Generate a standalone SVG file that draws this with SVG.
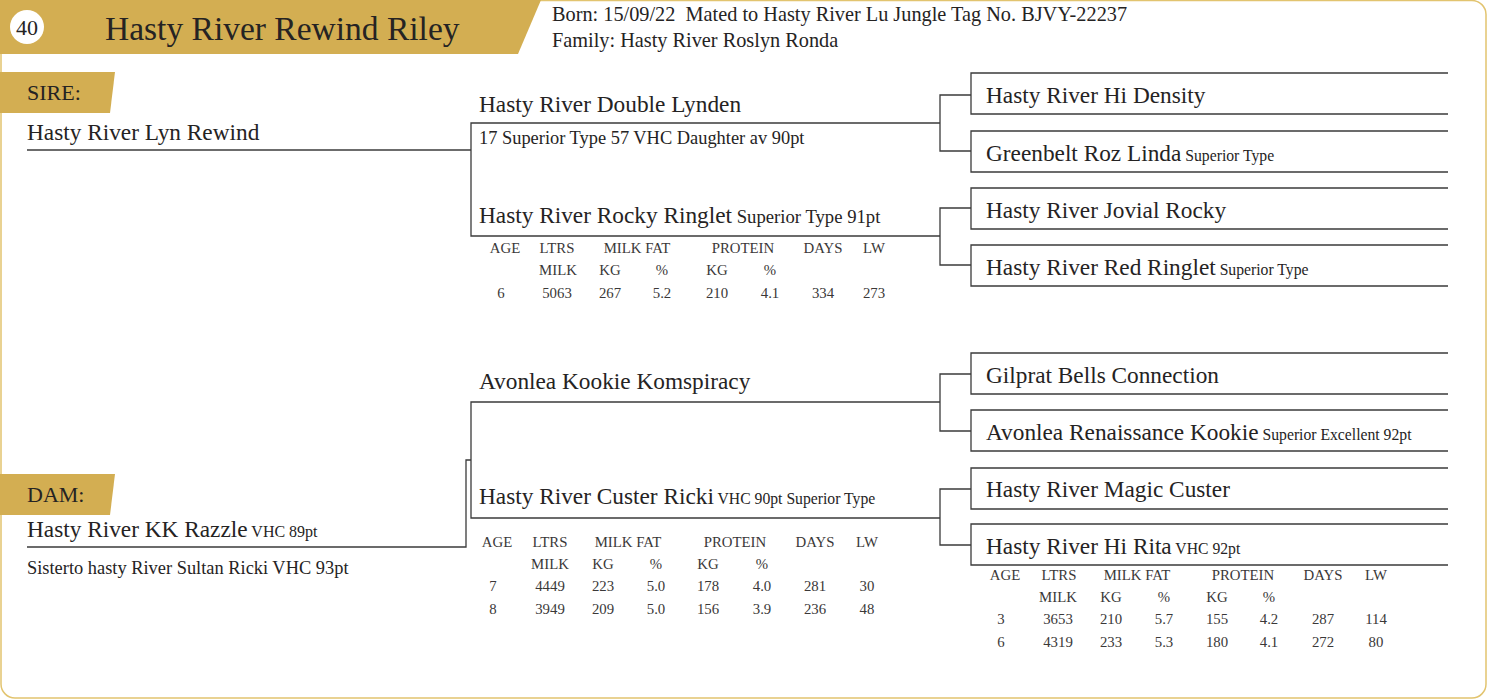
<svg xmlns="http://www.w3.org/2000/svg" width="1487" height="699" viewBox="0 0 1487 699">
<style>
.gold{fill:#d3ae52}
.t{font-family:"Liberation Serif","Times New Roman",serif;fill:#252323}
.name{font-size:23.3px}
.sub{font-size:15.7px}
.note{font-size:18.4px}
.tb{font-family:"Liberation Serif","Times New Roman",serif;fill:#3a3838;font-size:14.8px;text-anchor:middle}
.ln{fill:none;stroke:#3b3b3b;stroke-width:1.3}
.box{fill:none;stroke:#3b3b3b;stroke-width:1.3}
</style>
<rect x="1" y="0.5" width="1485" height="697.5" rx="14" fill="#ffffff" stroke="#e2c46f" stroke-width="1.5"/>

<g id="header">
  <polygon class="gold" points="0,0 541,0 518,54 0,54"/>
  <circle cx="27" cy="27" r="17" fill="#ffffff"/>
  <text class="t" x="27" y="35" font-size="22" text-anchor="middle">40</text>
  <text class="t" x="105" y="40" font-size="33.5">Hasty River Rewind Riley</text>
  <text class="t" x="552" y="21" font-size="20.3" xml:space="preserve">Born: 15/09/22  Mated to Hasty River Lu Jungle Tag No. BJVY-22237</text>
  <text class="t" x="552" y="47" font-size="20.3">Family: Hasty River Roslyn Ronda</text>
</g>

<g id="connectors">
  <polyline class="ln" points="27,150 471,150"/>
  <polyline class="ln" points="940,123 471,123 471,236 940,236"/>
  <polyline class="ln" points="971,95 940,95 940,151 971,151"/>
  <polyline class="ln" points="971,208 940,208 940,265 971,265"/>
  <polyline class="ln" points="27,547 466,547 466,460 471,460"/>
  <polyline class="ln" points="940,402 471,402 471,518 940,518"/>
  <polyline class="ln" points="971,374 940,374 940,431 971,431"/>
  <polyline class="ln" points="971,489 940,489 940,545 971,545"/>
</g>

<g id="sire">
  <polygon class="gold" points="0,72 115,72 110,113 0,113"/>
  <text class="t" x="27" y="100" font-size="22">SIRE:</text>
  <text class="t name" x="27" y="140">Hasty River Lyn Rewind</text>
</g>

<g id="sire-sire">
  <text class="t name" x="479" y="112">Hasty River Double Lynden</text>
  <text class="t note" x="479" y="144">17 Superior Type 57 VHC Daughter av 90pt</text>
</g>

<g id="sire-dam">
  <text class="t" x="479" y="223"><tspan class="name">Hasty River Rocky Ringlet</tspan><tspan font-size="18.7"> Superior Type 91pt</tspan></text>
  <g class="tb">
    <text x="505" y="253">AGE</text><text x="557" y="253">LTRS</text><text x="637" y="253">MILK FAT</text><text x="743" y="253">PROTEIN</text><text x="823" y="253">DAYS</text><text x="874" y="253">LW</text>
    <text x="558" y="275">MILK</text><text x="610" y="275">KG</text><text x="662" y="275">%</text><text x="717" y="275">KG</text><text x="770" y="275">%</text>
    <text x="501" y="298">6</text><text x="557" y="298">5063</text><text x="610" y="298">267</text><text x="662" y="298">5.2</text><text x="717" y="298">210</text><text x="770" y="298">4.1</text><text x="823" y="298">334</text><text x="874" y="298">273</text>
  </g>
</g>

<g id="sss">
  <polyline class="box" points="1448,73 971,73 971,114 1448,114"/>
  <text class="t name" x="986" y="103">Hasty River Hi Density</text>
</g>
<g id="ssd">
  <polyline class="box" points="1448,131 971,131 971,172 1448,172"/>
  <text class="t" x="986" y="161"><tspan class="name">Greenbelt Roz Linda</tspan><tspan class="sub"> Superior Type</tspan></text>
</g>
<g id="sds">
  <polyline class="box" points="1448,188 971,188 971,229 1448,229"/>
  <text class="t name" x="986" y="218">Hasty River Jovial Rocky</text>
</g>
<g id="sdd">
  <polyline class="box" points="1448,245 971,245 971,286 1448,286"/>
  <text class="t" x="986" y="275"><tspan class="name">Hasty River Red Ringlet</tspan><tspan class="sub"> Superior Type</tspan></text>
</g>

<g id="dam">
  <polygon class="gold" points="0,474 115,474 110,515 0,515"/>
  <text class="t" x="27" y="502" font-size="22">DAM:</text>
  <text class="t" x="27" y="537"><tspan class="name">Hasty River KK Razzle</tspan><tspan font-size="16"> VHC 89pt</tspan></text>
  <text class="t note" x="27" y="574">Sisterto hasty River Sultan Ricki VHC 93pt</text>
</g>

<g id="dam-sire">
  <text class="t name" x="479" y="389">Avonlea Kookie Komspiracy</text>
</g>

<g id="dam-dam">
  <text class="t" x="479" y="504"><tspan class="name">Hasty River Custer Ricki</tspan><tspan class="sub"> VHC 90pt Superior Type</tspan></text>
  <g class="tb">
    <text x="497" y="547">AGE</text><text x="550" y="547">LTRS</text><text x="628" y="547">MILK FAT</text><text x="735" y="547">PROTEIN</text><text x="815" y="547">DAYS</text><text x="867" y="547">LW</text>
    <text x="550" y="569">MILK</text><text x="603" y="569">KG</text><text x="656" y="569">%</text><text x="708" y="569">KG</text><text x="762" y="569">%</text>
    <text x="493" y="591">7</text><text x="550" y="591">4449</text><text x="603" y="591">223</text><text x="656" y="591">5.0</text><text x="708" y="591">178</text><text x="762" y="591">4.0</text><text x="815" y="591">281</text><text x="867" y="591">30</text>
    <text x="493" y="614">8</text><text x="550" y="614">3949</text><text x="603" y="614">209</text><text x="656" y="614">5.0</text><text x="708" y="614">156</text><text x="762" y="614">3.9</text><text x="815" y="614">236</text><text x="867" y="614">48</text>
  </g>
</g>

<g id="dss">
  <polyline class="box" points="1448,353 971,353 971,394 1448,394"/>
  <text class="t name" x="986" y="383">Gilprat Bells Connection</text>
</g>
<g id="dsd">
  <polyline class="box" points="1448,410 971,410 971,451 1448,451"/>
  <text class="t" x="986" y="440"><tspan class="name">Avonlea Renaissance Kookie</tspan><tspan class="sub"> Superior Excellent 92pt</tspan></text>
</g>
<g id="dds">
  <polyline class="box" points="1448,468 971,468 971,509 1448,509"/>
  <text class="t name" x="986" y="497">Hasty River Magic Custer</text>
</g>
<g id="ddd">
  <polyline class="box" points="1448,524 971,524 971,565 1448,565"/>
  <text class="t" x="986" y="554"><tspan class="name">Hasty River Hi Rita</tspan><tspan class="sub"> VHC 92pt</tspan></text>
  <g class="tb">
    <text x="1005" y="580">AGE</text><text x="1059" y="580">LTRS</text><text x="1137" y="580">MILK FAT</text><text x="1243" y="580">PROTEIN</text><text x="1323" y="580">DAYS</text><text x="1376" y="580">LW</text>
    <text x="1058" y="602">MILK</text><text x="1111" y="602">KG</text><text x="1164" y="602">%</text><text x="1217" y="602">KG</text><text x="1269" y="602">%</text>
    <text x="1001" y="624">3</text><text x="1058" y="624">3653</text><text x="1111" y="624">210</text><text x="1164" y="624">5.7</text><text x="1217" y="624">155</text><text x="1269" y="624">4.2</text><text x="1323" y="624">287</text><text x="1376" y="624">114</text>
    <text x="1001" y="647">6</text><text x="1058" y="647">4319</text><text x="1111" y="647">233</text><text x="1164" y="647">5.3</text><text x="1217" y="647">180</text><text x="1269" y="647">4.1</text><text x="1323" y="647">272</text><text x="1376" y="647">80</text>
  </g>
</g>
</svg>
